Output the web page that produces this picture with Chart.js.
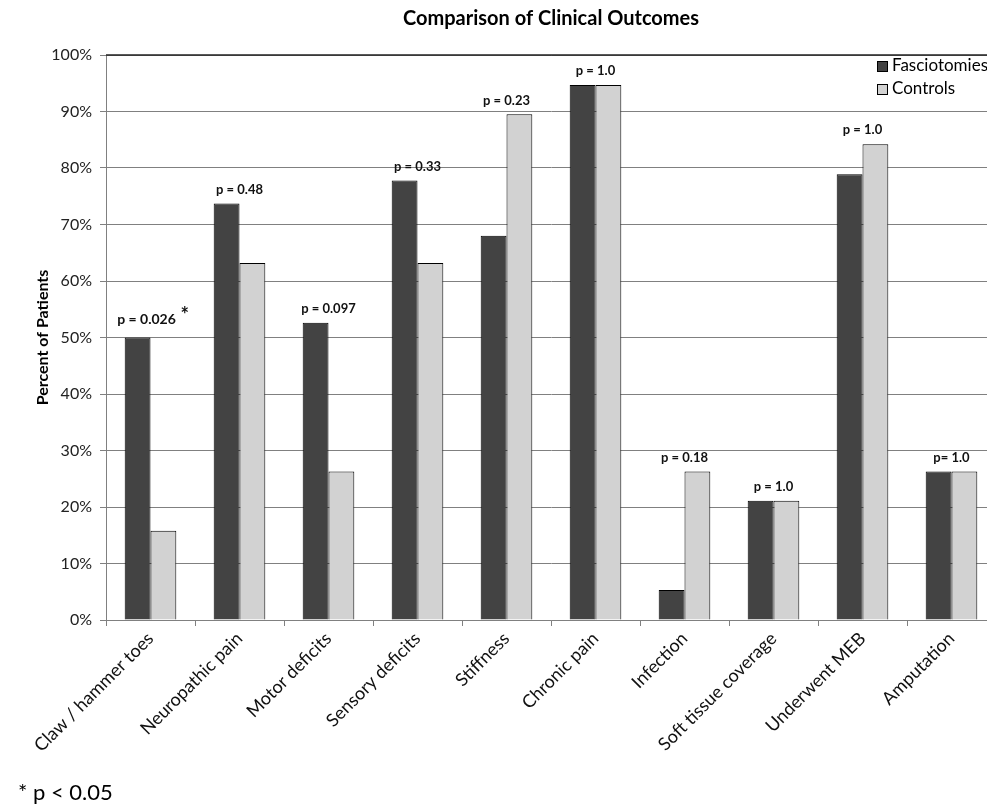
<!DOCTYPE html>
<html>
<head>
<meta charset="utf-8">
<script src="https://cdn.jsdelivr.net/npm/chart.js@4.4.1/dist/chart.umd.min.js"></script>
<style>
html,body{margin:0;padding:0;background:#fff;overflow:hidden}
#wrap{width:1010px;height:810px}
</style>
</head>
<body>
<div id="wrap"><canvas id="chart" width="1010" height="810"></canvas></div>
<script>
// values (percent of patients)
const categories = ["Claw / hammer toes","Neuropathic pain","Motor deficits","Sensory deficits","Stiffness","Chronic pain","Infection","Soft tissue coverage","Underwent MEB","Amputation"]
const fasciotomies = [50.0,73.7,52.6,77.8,68.0,94.7,5.3,21.1,78.9,26.3]
const controls = [15.8,63.2,26.3,63.2,89.5,94.7,26.3,21.1,84.2,26.3]
const pLabels = ["p = 0.026 *","p = 0.48","p = 0.097","p = 0.33","p = 0.23","p = 1.0","p = 0.18","p = 1.0","p = 1.0","p= 1.0"]
const seriesNames = ["Fasciotomies","Controls"]
const seriesColors = ["#434343","#d2d2d2"]

const FONT = "Lato, 'Open Sans', sans-serif"

const extras = {
id:"extras",
afterDatasetsDraw(chart){
const ctx = chart.ctx
const xs = chart.scales.x
const ys = chart.scales.y
ctx.save()
ctx.fillStyle = "#111"
ctx.textAlign = "center"
ctx.textBaseline = "middle"
for(let i=0;i<categories.length;i++){
const top = Math.max(fasciotomies[i],controls[i])
const x = xs.getPixelForValue(i)
const y = ys.getPixelForValue(top) - 14
let label = pLabels[i]
if(label.endsWith(" *")){
label = label.slice(0,-2)
ctx.font = "bold 14px " + FONT
ctx.fillText(label,x-4,y-4)
const w = ctx.measureText(label).width
ctx.font = "bold 20px " + FONT
ctx.fillText("*",x-4+w/2+9,y-8)
}else{
ctx.font = "bold 13px " + FONT
ctx.fillText(label,x,y)
}
}
ctx.restore()
},
afterDraw(chart){
const ctx = chart.ctx
const a = chart.chartArea
ctx.save()
// top border of plot
ctx.strokeStyle = "#222"
ctx.lineWidth = 1.5
ctx.beginPath()
ctx.moveTo(a.left,a.top)
ctx.lineTo(a.right,a.top)
ctx.stroke()
// title
ctx.fillStyle = "#000"
ctx.font = "bold 20px " + FONT
ctx.textAlign = "center"
ctx.textBaseline = "middle"
ctx.fillText("Comparison of Clinical Outcomes",(a.left+a.right)/2,19)
// y axis title
ctx.save()
ctx.translate(43,(a.top+a.bottom)/2)
ctx.rotate(-Math.PI/2)
ctx.font = "bold 16px " + FONT
ctx.fillText("Percent of Patients",0,0)
ctx.restore()
// legend
ctx.textAlign = "left"
ctx.font = "17px " + FONT
for(let k=0;k<seriesNames.length;k++){
const ly = 66 + k*23
ctx.fillStyle = seriesColors[k]
ctx.fillRect(877,ly-5,10,10)
ctx.strokeStyle = "#000"
ctx.lineWidth = 1
ctx.strokeRect(877.5,ly-4.5,10,10)
ctx.fillStyle = "#000"
ctx.fillText(seriesNames[k],892,ly)
}
// footnote
ctx.font = "22px " + FONT
ctx.fillText("* p < 0.05",18,793)
ctx.restore()
}
}

new Chart(document.getElementById("chart"),{
type:"bar",
data:{
labels:categories,
datasets:[
{label:seriesNames[0],data:fasciotomies,backgroundColor:seriesColors[0],borderColor:"#000",borderWidth:1},
{label:seriesNames[1],data:controls,backgroundColor:seriesColors[1],borderColor:"#000",borderWidth:1}
]
},
options:{
responsive:false,
animation:false,
datasets:{bar:{categoryPercentage:0.58,barPercentage:1.0}},
layout:{padding:{top:55,right:14,left:0,bottom:0}},
plugins:{legend:{display:false},title:{display:false},tooltip:{enabled:false}},
scales:{
x:{
afterFit(s){ s.height = 190 },
grid:{drawOnChartArea:false,drawTicks:true,tickLength:6,color:"#808080"},
border:{color:"#808080",width:1},
ticks:{color:"#111",font:{family:FONT,size:18},minRotation:45,maxRotation:45,padding:2,autoSkip:false}
},
y:{
min:0,max:100,
afterFit(s){ s.width = 106 },
grid:{color:"#808080",tickLength:6,lineWidth:1},
border:{color:"#808080",width:1},
ticks:{stepSize:10,color:"#222",font:{family:FONT,size:16},padding:8,callback:v => v + "%"}
}
}
},
plugins:[extras]
})
</script>
</body>
</html>
